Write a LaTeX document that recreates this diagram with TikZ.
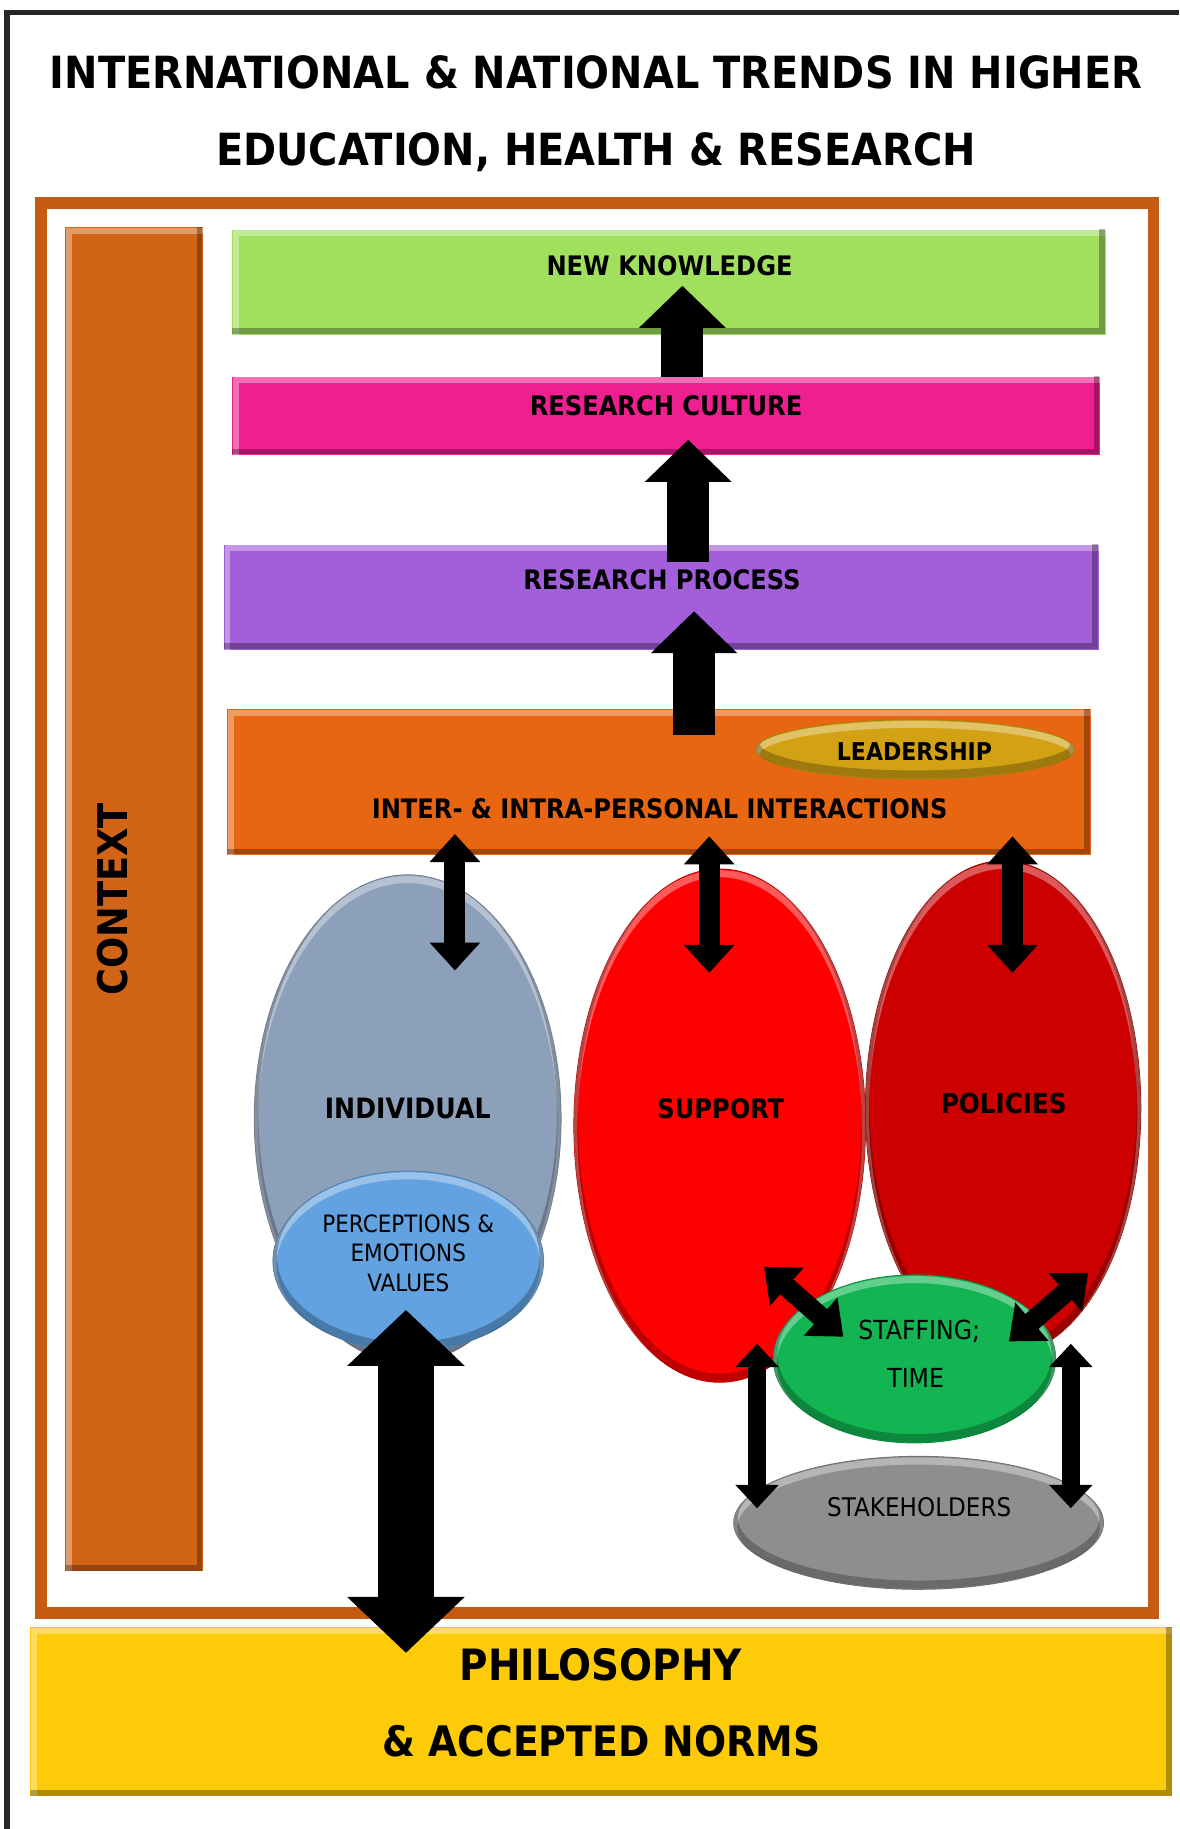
\documentclass[tikz,border=0pt]{standalone}
\usepackage{fontspec}
\setmainfont{DejaVu Sans}[FakeStretch=0.9]
\usetikzlibrary{arrows.meta,shapes.geometric}

\definecolor{framegray}{HTML}{262626}
\definecolor{frameorange}{HTML}{C55A11}
\definecolor{contextorange}{HTML}{D26418}
\definecolor{knowgreen}{HTML}{A0E05C}
\definecolor{culturepink}{HTML}{EE1F8E}
\definecolor{processpurple}{HTML}{A35FD9}
\definecolor{interorange}{HTML}{E86511}
\definecolor{leadgold}{HTML}{D2A214}
\definecolor{indivblue}{HTML}{8CA0BA}
\definecolor{percblue}{HTML}{62A2E0}
\definecolor{supportred}{HTML}{FF0000}
\definecolor{policyred}{HTML}{CC0000}
\definecolor{staffgreen}{HTML}{12B552}
\definecolor{stakegray}{HTML}{8E8E8E}
\definecolor{philyellow}{HTML}{FECB08}

% ellipse with a soft bevelled rim: name, x, y, x radius, y radius, colour
\newcommand\bevelellipse[6]{%
  \node[ellipse, fill=#6, draw=#6!80!black, line width=.8pt,
        minimum width=2*#4, minimum height=2*#5, inner sep=0pt] (#1) at (#2,#3) {};
  \begin{scope}
    \clip (#2,#3) ellipse [x radius=#4, y radius=#5];
    \draw[white, opacity=.35, line width=6pt] (#2,#3+4) ellipse [x radius=#4, y radius=#5];
    \draw[black, opacity=.25, line width=7pt] (#2,#3-4) ellipse [x radius=#4, y radius=#5];
  \end{scope}
}

\tikzset{
  bevel/.style={path picture={
    \draw[white, opacity=.35, line width=5pt]
      ([shift={(3pt,-3pt)}]path picture bounding box.south west) rectangle
      ([shift={(3pt,-3pt)}]path picture bounding box.north east);
    \draw[black, opacity=.3, line width=5pt]
      ([shift={(-3pt,3pt)}]path picture bounding box.south west) rectangle
      ([shift={(-3pt,3pt)}]path picture bounding box.north east);
  }},
  bar/.style={rectangle, inner sep=0pt, fill=#1, bevel},
  % node centre sits at mid cap height
  lbl/.style={inner sep=0pt, text height=\dimexpr #1pt*72/100\relax, text depth=0pt,
              font=\bfseries\fontsize{#1}{#1}\selectfont},
  plain/.style={inner sep=0pt, text height=\dimexpr #1pt*72/100\relax, text depth=0pt,
              font=\fontsize{#1}{#1}\selectfont},
  uparrow/.style={line width=36pt, -{Triangle[width=72pt,length=36pt]}},
  linkarrow/.style={line width=18pt,
     {Triangle[width=42pt,length=24pt]}-{Triangle[width=42pt,length=24pt]}},
  diagarrow/.style={line width=17pt,
     {Triangle[width=42pt,length=26pt]}-{Triangle[width=42pt,length=26pt]}},
  sidearrow/.style={line width=15pt,
     {Triangle[width=36pt,length=20pt]}-{Triangle[width=36pt,length=20pt]}},
  basearrow/.style={line width=48pt,
     {Triangle[width=98pt,length=48pt]}-{Triangle[width=98pt,length=48pt]}},
}

\begin{document}
\begin{tikzpicture}[x=1pt,y=-1pt]
\useasboundingbox (0,0) rectangle (1011,1568);
\fill[white] (0,0) rectangle (1011,1568);

% outer frame (top and left edges)
\draw[framegray, line width=4.5pt] (6,1568) -- (6,11) -- (1011,11);

% title
\node[lbl=38] (title1) at (511,62) {INTERNATIONAL \& NATIONAL TRENDS IN HIGHER};
\node[lbl=38] (title2) at (511,128) {EDUCATION, HEALTH \& RESEARCH};

% orange frame
\draw[frameorange, line width=10pt] (35,174) rectangle (989,1383);

% context column
\node[bar=contextorange, minimum width=118pt, minimum height=1152pt] (ctx) at (115,771) {};
\node[lbl=35, rotate=90] (ctxt) at (97,771) {CONTEXT};

% stacked bars
\node[bar=knowgreen, minimum width=749pt, minimum height=90pt] (nk) at (573.5,242) {};
\node[lbl=23] (nkt) at (574,228) {NEW KNOWLEDGE};

\node[bar=culturepink, minimum width=744pt, minimum height=67pt] (rc) at (571,356.5) {};
\node[lbl=23] (rct) at (571,348) {RESEARCH CULTURE};

\node[bar=processpurple, minimum width=750pt, minimum height=90pt] (rp) at (567,512) {};
\node[lbl=23] (rpt) at (567.5,497) {RESEARCH PROCESS};

\node[bar=interorange, minimum width=740pt, minimum height=125pt] (ip) at (565,670.5) {};
\node[lbl=23] (ipt) at (565.5,693) {INTER- \& INTRA-PERSONAL INTERACTIONS};

\bevelellipse{lead}{784.5}{642.5}{136.5}{25.5}{leadgold}
\node[lbl=21] (leadt) at (784,644) {LEADERSHIP};

% upward flow between the bars
\coordinate (u1s) at (585,323); \coordinate (u1e) at (585,245);
\coordinate (u2s) at (590,482); \coordinate (u2e) at (590,377);
\coordinate (u3s) at (595,630); \coordinate (u3e) at (595,524);
\draw[uparrow] (u1s) -- (u1e);
\draw[uparrow] (u2s) -- (u2e);
\draw[uparrow] (u3s) -- (u3e);

% the three pillars
\bevelellipse{ind}{349.5}{959}{131.5}{209}{indivblue}
\bevelellipse{sup}{617}{965}{125}{220}{supportred}
\bevelellipse{pol}{860}{950}{118}{212}{policyred}
\bevelellipse{perc}{350}{1081}{116}{77}{percblue}
\bevelellipse{staff}{784}{1165}{121}{72}{staffgreen}
\bevelellipse{stake}{787.5}{1305.5}{158.5}{57}{stakegray}

\node[lbl=24] (indt) at (349.5,950) {INDIVIDUAL};
\node[lbl=23] (supt) at (618,951) {SUPPORT};
\node[lbl=23.5] (polt) at (860.5,946) {POLICIES};
\node[plain=20.5] (perct1) at (350,1049) {PERCEPTIONS \&};
\node[plain=20.5] (perct2) at (350,1074.5) {EMOTIONS};
\node[plain=20.5] (perct3) at (350,1100) {VALUES};
\node[plain=22.5] (stafft1) at (788,1140) {STAFFING;};
\node[plain=22.5] (stafft2) at (785,1181) {TIME};
\node[plain=22] (staket) at (788,1292) {STAKEHOLDERS};

% links between interactions bar and pillars
\coordinate (l1a) at (390,715); \coordinate (l1b) at (390,832);
\coordinate (l2a) at (608,717); \coordinate (l2b) at (608,834);
\coordinate (l3a) at (868,717); \coordinate (l3b) at (868,834);
\draw[linkarrow] (l1a) -- (l1b);
\draw[linkarrow] (l2a) -- (l2b);
\draw[linkarrow] (l3a) -- (l3b);

% foundation
\node[bar=philyellow, minimum width=979pt, minimum height=145pt] (phil) at (515.5,1467.5) {};
\node[lbl=37] (philt1) at (515,1427) {PHILOSOPHY};
\node[lbl=36] (philt2) at (515.5,1493) {\& ACCEPTED NORMS};

\coordinate (ba) at (348,1123); \coordinate (bb) at (348,1417);
\draw[basearrow] (ba) -- (bb);

% staffing and stakeholder links
\coordinate (d1a) at (655,1086); \coordinate (d1b) at (723,1146);
\coordinate (d2a) at (933,1091); \coordinate (d2b) at (865,1150);
\draw[diagarrow] (d1a) -- (d1b);
\draw[diagarrow] (d2a) -- (d2b);

\coordinate (s1a) at (649,1152); \coordinate (s1b) at (649,1293);
\coordinate (s2a) at (918,1152); \coordinate (s2b) at (918,1293);
\draw[sidearrow] (s1a) -- (s1b);
\draw[sidearrow] (s2a) -- (s2b);
\end{tikzpicture}
\end{document}
